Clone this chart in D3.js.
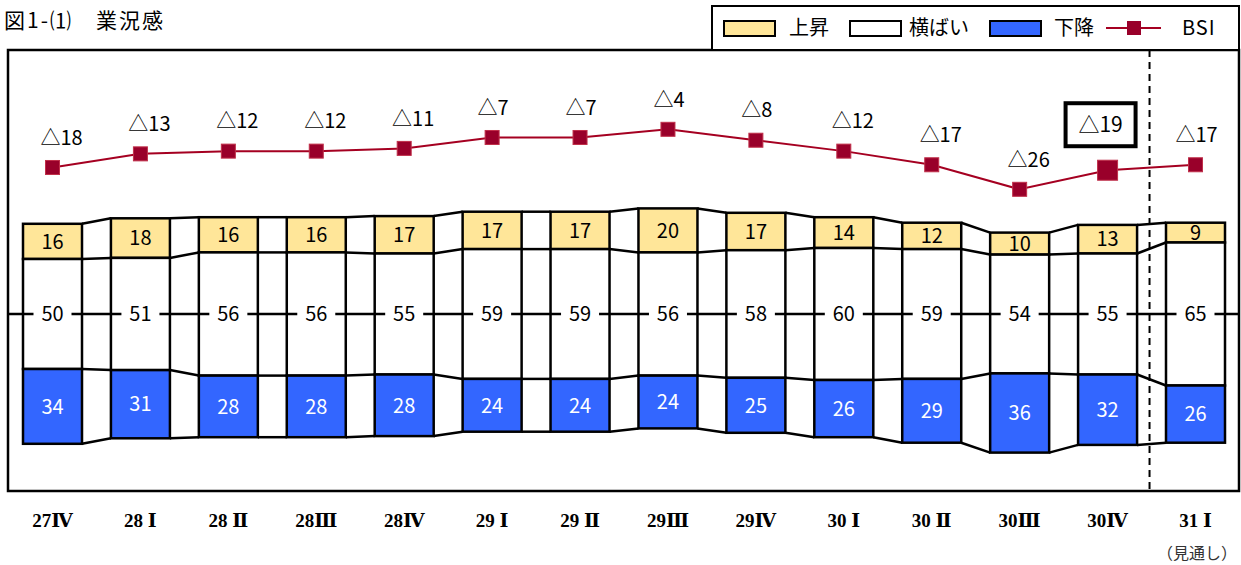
<!DOCTYPE html>
<html>
<head>
<meta charset="utf-8">
<script src="https://cdn.jsdelivr.net/npm/d3@7"></script>
<style>
  body { margin: 0; background: #fff; }
  svg text { font-family: "Noto Sans CJK JP", "DejaVu Sans", sans-serif; }
</style>
</head>
<body>
<div id="chart"></div>
<script>
// data (percent of firms)
const quarters = ["27Ⅳ", "28 Ⅰ", "28 Ⅱ", "28Ⅲ", "28Ⅳ", "29 Ⅰ", "29 Ⅱ", "29Ⅲ", "29Ⅳ", "30 Ⅰ", "30 Ⅱ", "30Ⅲ", "30Ⅳ", "31 Ⅰ"];
const rise = [16, 18, 16, 16, 17, 17, 17, 20, 17, 14, 12, 10, 13, 9];
const flat = [50, 51, 56, 56, 55, 59, 59, 56, 58, 60, 59, 54, 55, 65];
const fall = [34, 31, 28, 28, 28, 24, 24, 24, 25, 26, 29, 36, 32, 26];
const bsi = [-18, -13, -12, -12, -11, -7, -7, -4, -8, -12, -17, -26, -19, -17];
const highlightIndex = 12;   // latest actual (boxed)
const forecastStart = 13;    // 31 I is a forecast

const W = 1241, H = 565;
const plot = { left: 8, right: 1239, top: 50, bottom: 491 };

const svg = d3.select("#chart").append("svg")
    .attr("width", W)
    .attr("height", H);

// scales
const x = d3.scalePoint().domain(quarters).range([52.5, 1195.5]);
const barW = 59;
const yBar = d3.scaleLinear().domain([-50, 50]).range([424, 204]);
const yBsi = d3.scaleLinear().domain([-40, 0]).range([227.5, 118.4]);

const colRise = "#FFE699", colFlat = "#FFFFFF", colFall = "#3366FF";
const colBsi = "#A50021", colMarker = "#99002A";

// title
svg.append("text")
    .attr("x", 4).attr("y", 28)
    .style("font-size", "21px")
    .style("letter-spacing", "2px")
    .text("図1-⑴　業況感");

// plot frame
svg.append("rect")
    .attr("x", plot.left).attr("y", plot.top)
    .attr("width", plot.right - plot.left).attr("height", plot.bottom - plot.top)
    .attr("fill", "none").attr("stroke", "#000").attr("stroke-width", 2.5);

// segment boundaries for each bar: top, rise/flat, flat/fall, bottom
const bounds = quarters.map((q, i) => {
    const half = flat[i] / 2;
    return [half + rise[i], half, -half, -half - fall[i]];
});

// middle reference line
svg.append("line")
    .attr("x1", plot.left).attr("x2", plot.right)
    .attr("y1", yBar(0)).attr("y2", yBar(0))
    .attr("stroke", "#000").attr("stroke-width", 2.5);

// connectors between neighbouring bars
for (let i = 0; i < quarters.length - 1; i++) {
    for (let k = 0; k < 4; k++) {
        svg.append("line")
            .attr("x1", x(quarters[i]) + barW / 2)
            .attr("x2", x(quarters[i + 1]) - barW / 2)
            .attr("y1", yBar(bounds[i][k]))
            .attr("y2", yBar(bounds[i + 1][k]))
            .attr("stroke", "#000").attr("stroke-width", 2.5);
    }
}

// stacked bars
const segs = [
    { vals: rise, fill: colRise, text: "#000", from: 0 },
    { vals: flat, fill: colFlat, text: "#000", from: 1 },
    { vals: fall, fill: colFall, text: "#fff", from: 2 }
];

quarters.forEach((q, i) => {
    const g = svg.append("g");
    segs.forEach(s => {
        const y0 = yBar(bounds[i][s.from]);
        const y1 = yBar(bounds[i][s.from + 1]);
        g.append("rect")
            .attr("x", x(q) - barW / 2).attr("y", y0)
            .attr("width", barW).attr("height", y1 - y0)
            .attr("fill", s.fill)
            .attr("stroke", "#000").attr("stroke-width", 2.5);
    });
    // the flat segment is split by the middle line
    g.append("line")
        .attr("x1", x(q) - barW / 2).attr("x2", x(q) + barW / 2)
        .attr("y1", yBar(0)).attr("y2", yBar(0))
        .attr("stroke", "#000").attr("stroke-width", 2.5);
    segs.forEach(s => {
        const y0 = yBar(bounds[i][s.from]);
        const y1 = yBar(bounds[i][s.from + 1]);
        const cy = (y0 + y1) / 2;
        if (s.from === 1) {
            g.append("rect")
                .attr("x", x(q) - 19).attr("y", cy - 12)
                .attr("width", 38).attr("height", 24)
                .attr("fill", "#fff");
        }
        g.append("text")
            .attr("x", x(q)).attr("y", cy)
            .attr("text-anchor", "middle")
            .attr("dy", "0.36em")
            .style("font-size", "20px")
            .attr("fill", s.text)
            .text(s.vals[i]);
    });
});

// forecast divider
svg.append("line")
    .attr("x1", (x(quarters[forecastStart - 1]) + x(quarters[forecastStart])) / 2 - 2)
    .attr("x2", (x(quarters[forecastStart - 1]) + x(quarters[forecastStart])) / 2 - 2)
    .attr("y1", plot.top).attr("y2", plot.bottom)
    .attr("stroke", "#000").attr("stroke-width", 2)
    .attr("stroke-dasharray", "7,5");

// BSI line
const line = d3.line()
    .x((d, i) => x(quarters[i]))
    .y(d => yBsi(d));

svg.append("path")
    .datum(bsi)
    .attr("d", line)
    .attr("fill", "none")
    .attr("stroke", colBsi)
    .attr("stroke-width", 2);

svg.selectAll(".bsi-marker")
    .data(bsi)
    .enter().append("rect")
    .attr("class", "bsi-marker")
    .attr("x", (d, i) => x(quarters[i]) - (i === highlightIndex ? 10 : 7))
    .attr("y", (d, i) => yBsi(d) - (i === highlightIndex ? 10 : 7))
    .attr("width", (d, i) => i === highlightIndex ? 20 : 14)
    .attr("height", (d, i) => i === highlightIndex ? 20 : 14)
    .attr("fill", colMarker)
    .attr("stroke", "#C0304A")
    .attr("stroke-width", 1);

const fmt = v => (v < 0 ? "△" + (-v) : String(v));

bsi.forEach((v, i) => {
    const cx = x(quarters[i]);
    if (i === highlightIndex) {
        const bx = cx - 7, by = yBsi(v) - 46;
        svg.append("rect")
            .attr("x", bx - 35).attr("y", by - 21)
            .attr("width", 70).attr("height", 43)
            .attr("fill", "#fff")
            .attr("stroke", "#000").attr("stroke-width", 4);
        svg.append("text")
            .attr("x", bx).attr("y", by)
            .attr("dy", "0.36em")
            .attr("text-anchor", "middle")
            .style("font-size", "21px")
            .text(fmt(v));
    } else {
        svg.append("text")
            .attr("x", cx + (Math.abs(v) >= 10 && i !== quarters.length - 1 ? 9 : 1))
            .attr("y", yBsi(v) - 30)
            .attr("dy", "0.36em")
            .attr("text-anchor", "middle")
            .style("font-size", "20px")
            .text(fmt(v));
    }
});

// x labels
svg.selectAll(".xlab")
    .data(quarters)
    .enter().append("text")
    .attr("class", "xlab")
    .attr("x", d => x(d))
    .attr("y", 527)
    .attr("text-anchor", "middle")
    .style("font-family", "'Liberation Serif', 'DejaVu Serif', serif")
    .style("font-weight", "bold")
    .style("font-size", "19px")
    .text(d => d);

svg.append("text")
    .attr("x", 1237).attr("y", 559)
    .attr("text-anchor", "end")
    .style("font-size", "16px")
    .attr("fill", "#333")
    .text("（見通し）");

// legend
const lg = svg.append("g");
lg.append("rect")
    .attr("x", 712).attr("y", 6)
    .attr("width", 527).attr("height", 44)
    .attr("fill", "#fff").attr("stroke", "#000").attr("stroke-width", 2);

const legendItems = [
    { label: "上昇", fill: colRise, sx: 724, tx: 789 },
    { label: "横ばい", fill: colFlat, sx: 850, tx: 909 },
    { label: "下降", fill: colFall, sx: 990, tx: 1054 }
];
legendItems.forEach(d => {
    lg.append("rect")
        .attr("x", d.sx).attr("y", 21)
        .attr("width", 51).attr("height", 15)
        .attr("fill", d.fill)
        .attr("stroke", "#000").attr("stroke-width", 2);
    lg.append("text")
        .attr("x", d.tx).attr("y", 28)
        .attr("dy", "0.36em")
        .style("font-size", "20px")
        .text(d.label);
});
lg.append("line")
    .attr("x1", 1106).attr("x2", 1161)
    .attr("y1", 28).attr("y2", 28)
    .attr("stroke", colBsi).attr("stroke-width", 2);
lg.append("rect")
    .attr("x", 1127).attr("y", 21)
    .attr("width", 14).attr("height", 14)
    .attr("fill", colMarker);
lg.append("text")
    .attr("x", 1182).attr("y", 28)
    .attr("dy", "0.36em")
    .style("font-size", "20px")
    .style("letter-spacing", "1px")
    .text("BSI");
</script>
</body>
</html>
